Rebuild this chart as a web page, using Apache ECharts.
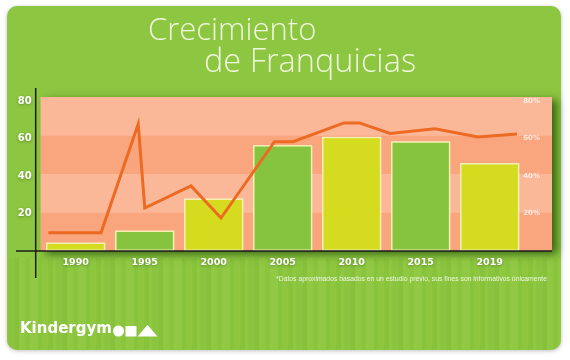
<!DOCTYPE html>
<html><head><meta charset="utf-8">
<script src="https://cdn.jsdelivr.net/npm/echarts@6/dist/echarts.min.js"></script>
<style>html,body{margin:0;padding:0;background:#fff}#c{width:570px;height:360px}</style>
</head><body><div id="c"></div>
<script>
// ---- data ----
const categories = ['1990', '1995', '2000', '2005', '2010', '2015', '2019'];
const barValues = [4.5, 11, 28, 56.5, 61, 58.5, 47];
// line vertices: x in category-index units, y in percent (right axis)
const lineX = [-0.396, 0.367, 0.906, 1.001, 1.671, 2.106, 2.881, 3.149, 3.888, 4.113, 4.555, 5.207, 5.830, 6.395];
const lineY = [9.8, 9.8, 67.7, 22.9, 34.7, 17.6, 58.3, 58.3, 68.3, 68.3, 62.7, 65.2, 60.8, 62.4];
const axisMax = 80;
const axisStep = 20;
const titleLine1 = 'Crecimiento';
const titleLine2 = 'de Franquicias';
const footnote = '*Datos aproximados basados en un estudio previo, sus fines son informativos únicamente';
const brand = 'Kindergym';

// ---- styles ----
const yellow = '#d5dc1f', green = '#86c440';
const labelShadow = {textShadowColor: 'rgba(0,40,0,0.35)', textShadowBlur: 3, textShadowOffsetY: 1};

// stripe pattern for lower card
const pc = document.createElement('canvas');
pc.width = 48; pc.height = 8;
const g = pc.getContext('2d');
[[0,5,'#84bf39'],[5,3,'#97ca47'],[8,7,'#8bc43e'],[15,4,'#80bb37'],[19,6,'#95c945'],[25,5,'#89c33c'],[30,8,'#9acc4a'],[38,4,'#83be38'],[42,6,'#91c642']]
  .forEach(s => { g.fillStyle = s[2]; g.fillRect(s[0], 0, s[1], 8); });

const chart = echarts.init(document.getElementById('c'), null, {renderer: 'canvas'});
chart.setOption({
  animation: false,
  backgroundColor: '#ffffff',
  title: [
    {text: titleLine1, left: 143, top: 11, textStyle: {color: '#eef6dc', fontFamily: 'Open Sans', fontWeight: 300, fontSize: 31}},
    {text: titleLine2, left: 199, top: 41, textStyle: {color: '#eef6dc', fontFamily: 'Open Sans', fontWeight: 300, fontSize: 32.5}}
  ],
  graphic: [
    {type: 'rect', z: -10, shape: {x: 7, y: 6, width: 554, height: 344, r: 10},
     style: {fill: '#8dc641', shadowColor: 'rgba(0,0,0,0.25)', shadowBlur: 4, shadowOffsetY: 1}},
    {type: 'rect', z: -9, shape: {x: 7, y: 258, width: 554, height: 92, r: [0, 0, 10, 10]},
     style: {fill: {image: pc, repeat: 'repeat'}, opacity: 0.45}},
    {type: 'line', z: 5, shape: {x1: 16, y1: 251, x2: 552, y2: 251}, style: {stroke: '#1b1b1b', lineWidth: 1.5}},
    {type: 'line', z: 5, shape: {x1: 35.7, y1: 88, x2: 35.7, y2: 278}, style: {stroke: '#1b1b1b', lineWidth: 1.5}},
    {type: 'text', z: 5, style: {text: footnote, x: 547, y: 279, align: 'right', verticalAlign: 'middle',
      fill: 'rgba(255,255,255,0.85)', font: '6.8px "Liberation Sans", sans-serif'}},
    {type: 'text', z: 5, style: {text: brand, x: 20, y: 329, align: 'left', verticalAlign: 'middle',
      fill: '#ffffff', font: 'bold 15px "DejaVu Sans", sans-serif'}},
    {type: 'circle', z: 5, shape: {cx: 118.5, cy: 331, r: 5.5}, style: {fill: '#ffffff'}},
    {type: 'rect', z: 5, shape: {x: 125.5, y: 326, width: 11, height: 10.5}, style: {fill: '#ffffff'}},
    {type: 'polygon', z: 5, shape: {points: [[137.5, 336.5], [147.5, 325], [157.5, 336.5]]}, style: {fill: '#ffffff'}}
  ],
  grid: [
    {left: 41.2, top: 101, width: 483, height: 150, show: false},
    {left: 40.7, top: 97, width: 511.3, height: 154, show: true, borderWidth: 0, backgroundColor: '#fbb899',
     shadowColor: 'rgba(20,60,0,0.7)', shadowBlur: 8, shadowOffsetX: 5, shadowOffsetY: 3}
  ],
  xAxis: [
    {type: 'category', gridIndex: 0, data: categories,
     axisLine: {show: false}, axisTick: {show: false}, splitLine: {show: false},
     axisLabel: Object.assign({color: '#ffffff', fontFamily: 'DejaVu Sans', fontWeight: 'bold', fontSize: 9.5, margin: 7}, labelShadow)},
    {type: 'value', gridIndex: 0, min: -0.5, max: 6.5, show: false},
    {type: 'value', gridIndex: 1, min: 0, max: 1, show: false}
  ],
  yAxis: [
    {type: 'value', gridIndex: 0, min: 0, max: axisMax, interval: axisStep, position: 'left', offset: 5.5,
     axisLine: {show: false}, axisTick: {show: false}, splitLine: {show: false},
     axisLabel: Object.assign({color: '#ffffff', fontFamily: 'DejaVu Sans', fontWeight: 'bold', fontSize: 10, margin: 4,
       formatter: v => v === 0 ? '' : String(v)}, labelShadow)},
    {type: 'value', gridIndex: 0, min: 0, max: axisMax, interval: axisStep, position: 'right',
     axisLine: {show: false}, axisTick: {show: false}, splitLine: {show: false},
     axisLabel: {color: 'rgba(255,255,255,0.72)', fontFamily: 'DejaVu Sans', fontWeight: 'bold', fontSize: 7, margin: -1,
       padding: [4, 0, 0, 0], formatter: v => v === 0 ? '' : v + '%'}},
    {type: 'value', gridIndex: 1, min: 0, max: axisMax, interval: axisStep,
     axisLine: {show: false}, axisTick: {show: false}, axisLabel: {show: false}, splitLine: {show: false},
     splitArea: {show: true, areaStyle: {color: ['#f9a57d', '#fbb899']}}}
  ],
  series: [
    {type: 'bar', xAxisIndex: 0, yAxisIndex: 0, data: barValues, barCategoryGap: '14%',
     itemStyle: {color: p => p.dataIndex % 2 ? green : yellow, borderColor: '#f6efb4', borderWidth: 1.5}},
    {type: 'line', xAxisIndex: 1, yAxisIndex: 1, data: lineX.map((x, i) => [x, lineY[i]]),
     symbol: 'none', z: 4, lineStyle: {color: '#ec6a22', width: 3, join: 'miter'}}
  ]
});
</script>
</body></html>
